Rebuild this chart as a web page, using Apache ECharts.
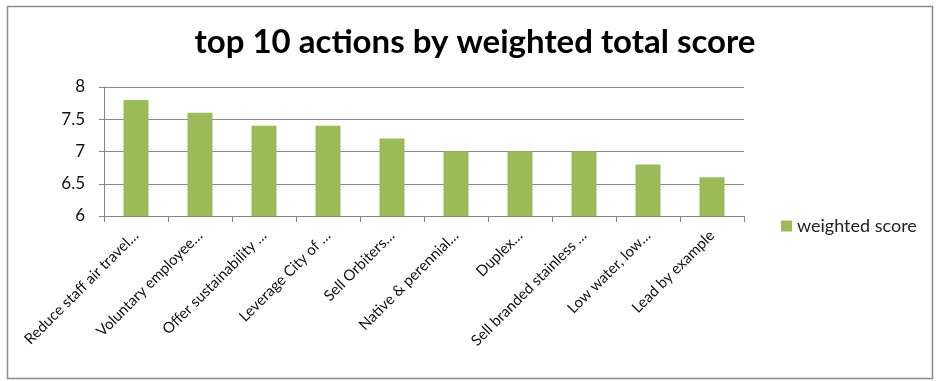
<!DOCTYPE html>
<html><head><meta charset="utf-8">
<script src="https://cdn.jsdelivr.net/npm/echarts@6/dist/echarts.min.js"></script>
<style>html,body{margin:0;padding:0;background:#fff}#c{width:936px;height:381px}</style>
</head><body><div id="c"></div>
<script>
var titleText = 'top 10 actions by weighted total score';
var categories = ['Reduce staff air travel…','Voluntary employee…','Offer sustainability …','Leverage City of …','Sell Orbiters…','Native & perennial…','Duplex…','Sell branded stainless …','Low water, low…','Lead by example'];
var seriesName = 'weighted score';
var values = [7.8, 7.6, 7.4, 7.4, 7.2, 7.0, 7.0, 7.0, 6.8, 6.6];
var yMin = 6, yMax = 8, yStep = 0.5;

var chart = echarts.init(document.getElementById('c'));
chart.setOption({
  animation: false,
  backgroundColor: '#fff',
  graphic: [{type:'rect', shape:{x:7.5,y:6.5,width:925,height:372}, style:{fill:'none', stroke:'#8c8c8c', lineWidth:1.5}}],
  title: {text: titleText, left: 470, top: 21, textAlign: 'center',
    textStyle: {fontFamily: 'Lato', fontWeight: 'bold', fontSize: 33, color: '#000'}},
  legend: {data: [seriesName], left: 776, top: 212, itemWidth: 11, itemHeight: 11, icon: 'rect', itemGap: 4,
    textStyle: {fontFamily: 'Lato', fontSize: 18, color: '#222'}},
  grid: {left: 104, right: 192, top: 87, bottom: 165, containLabel: false},
  xAxis: {type: 'category', data: categories,
    axisLine: {lineStyle: {color: '#868686'}},
    axisTick: {show: true, length: 6, lineStyle: {color: '#868686'}},
    axisLabel: {rotate: 45, interval: 0, fontFamily: 'Lato', fontSize: 15, color: '#111', margin: 17}},
  yAxis: {type: 'value', min: yMin, max: yMax, interval: yStep,
    axisLine: {show: true, lineStyle: {color: '#868686'}},
    axisTick: {show: true, length: 5, lineStyle: {color: '#868686'}},
    splitLine: {lineStyle: {color: '#8a8a8a'}},
    axisLabel: {fontFamily: 'Lato', fontSize: 17, color: '#111', margin: 19}},
  series: [{name: seriesName, type: 'bar', data: values, barWidth: 25,
    itemStyle: {color: '#9BBB59'}}]
});
</script></body></html>
